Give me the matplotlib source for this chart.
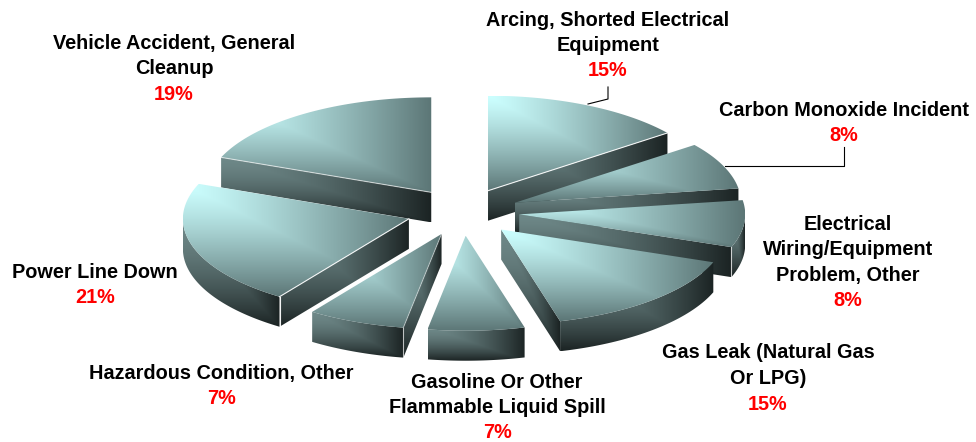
import numpy as np
import matplotlib
matplotlib.use('Agg')
import matplotlib.pyplot as plt
from matplotlib.colors import to_rgb
from matplotlib.patches import Polygon

plt.rcParams['font.family'] = ['Liberation Sans', 'DejaVu Sans']

labels = [
    'Arcing, Shorted Electrical\nEquipment',
    'Carbon Monoxide Incident',
    'Electrical\nWiring/Equipment\nProblem, Other',
    'Gas Leak (Natural Gas\nOr LPG)',
    'Gasoline Or Other\nFlammable Liquid Spill',
    'Hazardous Condition, Other',
    'Power Line Down',
    'Vehicle Accident, General\nCleanup',
]
# the printed labels are these rounded
values = [14.6, 8.0, 8.0, 15.2, 6.9, 7.0, 21.3, 19.0]

# label centres, pixels from the top left
label_pos = [(608, 20), (844, 110), (848, 224), (768, 353), (497, 382), (221, 373), (95, 272), (174, 43)]

CX, CY = 463, 212
RX, RY = 226, 95
DEPTH = 30
EXPLODE = 0.25
LINE_H = 25.5

# slices with a pale seam along the front of the top face / on the wall corner
SEAM_EDGE = {0: 0.9, 5: 0.4, 6: 0.9, 7: 0.6}
SEAM_CORNER = {2: 0.7, 5: 0.6, 6: 0.95}

fig = plt.figure(figsize=(9.76, 4.42), dpi=100)
ax = fig.add_axes([0, 0, 1, 1])
ax.set_axis_off()


def rim(a, b, ox, oy):
    t = np.radians(np.linspace(a, b, max(int(b - a) * 2, 2)))
    return np.column_stack([ox + RX * np.sin(t), oy - RY * np.cos(t)])


def shaded(pts, light, dark, z, power=1.0):
    # corner gradient: bright in the top left of the face's box
    x0, y0 = pts.min(axis=0)
    x1, y1 = pts.max(axis=0)
    u, v = np.meshgrid(np.linspace(0, 1, 200), np.linspace(0, 1, 200))
    f = (np.maximum(u, v) ** power)[..., None]
    img = np.array(to_rgb(light)) * (1 - f) + np.array(to_rgb(dark)) * f
    im = ax.imshow(img, extent=[x0, x1, y1, y0], aspect='auto', zorder=z, interpolation='bilinear')
    clip = Polygon(pts, closed=True, transform=ax.transData, facecolor='none', edgecolor='none')
    ax.add_patch(clip)
    im.set_clip_path(clip)


def wall(top_pts, z):
    pts = np.vstack([top_pts, (top_pts + [0, DEPTH])[::-1]])
    shaded(pts, '#6E8888', '#1B2323', z, power=1.6)


slices = []
start = 0
for i, val in enumerate(values):
    end = start + val * 3.6
    slices.append((i, start, end))
    start = end
slices.sort(key=lambda s: -np.cos(np.radians((s[1] + s[2]) / 2)))

# back slices first, so the front ones cover them
for order, (i, a, b) in enumerate(slices):
    mid = np.radians((a + b) / 2)
    ox = CX + EXPLODE * RX * np.sin(mid)
    oy = CY - EXPLODE * RY * np.cos(mid)
    arc = rim(a, b, ox, oy)
    apex = np.array([[ox, oy]])
    z = 10 + 5 * order

    lo, hi = max(a, 90), min(b, 270)
    if lo < hi:
        wall(rim(lo, hi, ox, oy), z)
    front = None
    if 180 <= a < 360:
        front = np.vstack([apex, arc[:1]])
    elif 0 < b < 180:
        front = np.vstack([apex, arc[-1:]])
    if front is not None:
        wall(front, z + 1)
    shaded(np.vstack([apex, arc]), '#CCFFFF', '#5C7676', z + 2, power=1.25)

    if i in SEAM_EDGE and front is not None:
        ax.plot(front[:, 0], front[:, 1], color='white', lw=0.8, alpha=SEAM_EDGE[i], zorder=z + 3)
    if i in SEAM_CORNER and front is not None:
        ax.plot([front[1, 0]] * 2, [front[1, 1], front[1, 1] + DEPTH], color='white', lw=0.8,
                alpha=SEAM_CORNER[i], zorder=z + 3)

# leader lines
ax.plot([608, 608, 588], [87, 99, 104], color='black', lw=0.8, zorder=60)
ax.plot([725, 844, 844], [166, 166, 147], color='black', lw=0.8, zorder=60)

for label, val, (x, y) in zip(labels, values, label_pos):
    lines = label.split('\n')
    for n, line in enumerate(lines):
        ax.text(x, y + n * LINE_H, line, ha='center', va='center', fontsize=14.3, fontweight='bold',
                color='black', zorder=70)
    ax.text(x, y + len(lines) * LINE_H, f'{round(val)}%', ha='center', va='center', fontsize=14.3,
            fontweight='bold', color='#FF0000', zorder=70)

ax.set_xlim(0, 976)
ax.set_ylim(442, 0)
fig.savefig('out.png', dpi=100, facecolor='white')
